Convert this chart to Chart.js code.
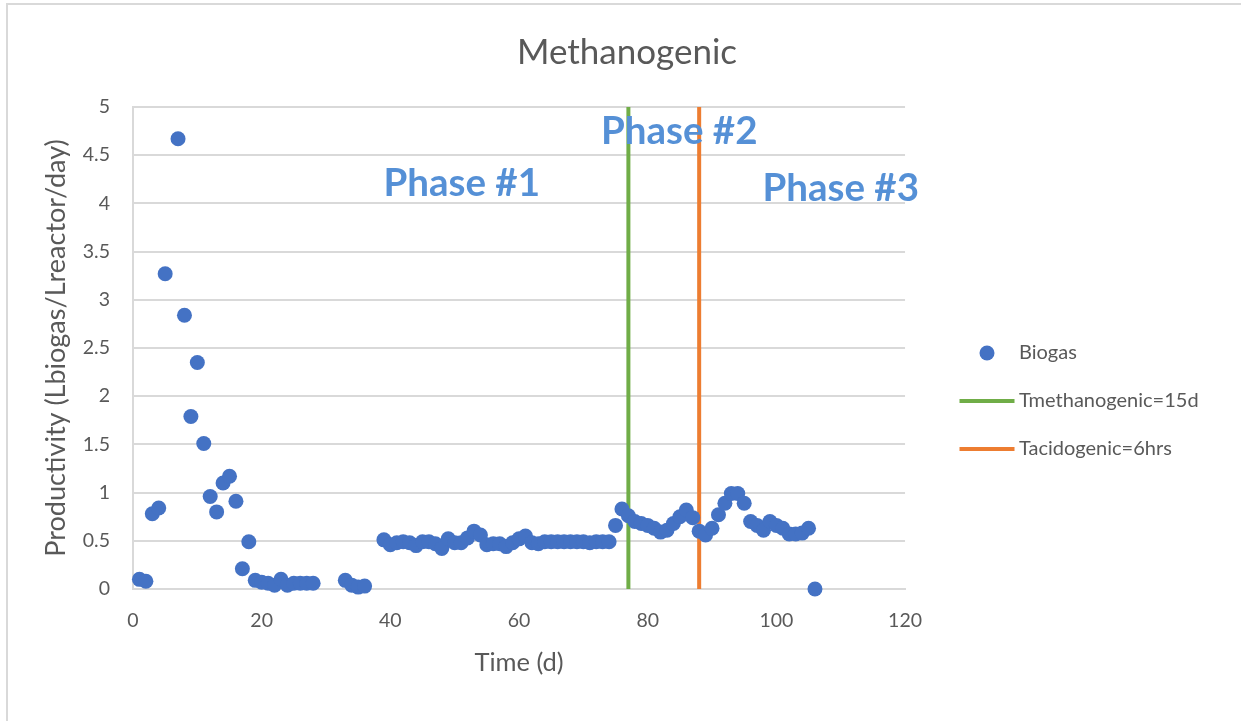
<!DOCTYPE html>
<html>
<head>
<meta charset="utf-8">
<title>Methanogenic</title>
<script src="https://cdn.jsdelivr.net/npm/chart.js@4.4.1/dist/chart.umd.min.js"></script>
<style>
  html, body { margin: 0; padding: 0; background: #ffffff; }
  #wrap { position: relative; width: 1241px; height: 721px; overflow: hidden; }
  #frame { position: absolute; left: 6px; top: 3px; width: 1300px; height: 800px;
           border: 2px solid #d9d9d9; box-sizing: border-box; pointer-events: none; }
  canvas { position: absolute; left: 0; top: 0; }
</style>
</head>
<body>
<div id="wrap">
  <canvas id="chart" width="1241" height="721"></canvas>
  <div id="frame"></div>
</div>
<script>
// Biogas productivity per day (Lbiogas/Lreactor/day)
const days = [
  1, 2, 3, 4, 5, 7, 8, 9, 10, 11, 12, 13, 14, 15, 16, 17, 18,
  19, 20, 21, 22, 23, 24, 25, 26, 27, 28,
  33, 34, 35, 36,
  39, 40, 41, 42, 43, 44, 45, 46, 47, 48, 49, 50, 51, 52, 53, 54, 55, 56, 57, 58,
  59, 60, 61, 62, 63, 64, 65, 66, 67, 68, 69, 70, 71, 72, 73, 74, 75, 76, 77, 78,
  79, 80, 81, 82, 83, 84, 85, 86, 87, 88, 89, 90, 91, 92, 93, 94, 95, 96, 97, 98,
  99, 100, 101, 102, 103, 104, 105, 106
];
const biogas = [
  0.10, 0.08, 0.78, 0.84, 3.27, 4.67, 2.84, 1.79, 2.35, 1.51, 0.96, 0.80, 1.10, 1.17, 0.91, 0.21, 0.49,
  0.09, 0.07, 0.06, 0.04, 0.10, 0.04, 0.06, 0.06, 0.06, 0.06,
  0.09, 0.04, 0.02, 0.03,
  0.51, 0.46, 0.48, 0.49, 0.48, 0.45, 0.49, 0.49, 0.47, 0.42, 0.52, 0.48, 0.48, 0.53, 0.60, 0.56, 0.46, 0.47, 0.47, 0.44,
  0.48, 0.52, 0.55, 0.48, 0.47, 0.49, 0.49, 0.49, 0.49, 0.49, 0.49, 0.49, 0.48, 0.49, 0.49, 0.49, 0.66, 0.83, 0.76, 0.70,
  0.68, 0.66, 0.63, 0.59, 0.61, 0.68, 0.75, 0.82, 0.74, 0.60, 0.56, 0.63, 0.77, 0.89, 0.99, 0.99, 0.89, 0.70, 0.66, 0.61,
  0.70, 0.66, 0.63, 0.57, 0.57, 0.58, 0.63, 0.00
];

// Retention-time markers (day at which each vertical line sits)
const markerNames = ['Tmethanogenic=15d', 'Tacidogenic=6hrs'];
const markerDays = [77, 88];
const markerColors = ['#70AD47', '#ED7D31'];

// Axis ticks
const xTicks = [0, 20, 40, 60, 80, 100, 120];
const yTicks = [0, 0.5, 1, 1.5, 2, 2.5, 3, 3.5, 4, 4.5, 5];

// Phase captions
const phaseNames = ['Phase #1', 'Phase #2', 'Phase #3'];

const FONT = "Lato, 'Open Sans', sans-serif";
const TEXT = '#595959';
const GRID = '#d9d9d9';
const BLUE = '#4472C4';

// Phase caption anchors, in axis units (centre of each caption)
const phaseAnchors = [
  { x: 51.1, y: 4.21 },
  { x: 84.9, y: 4.74 },
  { x: 110.0, y: 4.15 }
];

// Page layout targets (pixels)
const PLOT = { left: 133, right: 905, bottom: 589 };
const TITLE_CENTER_X = 627;
const LEGEND_X = 934;          // left edge of legend entries
const LEGEND_FIRST_Y = 353;    // middle of the first legend entry

const scatterPoints = days.map((d, i) => ({ x: d, y: biogas[i] }));
const yMin = yTicks[0], yMax = yTicks[yTicks.length - 1];

// Legend glyphs: drawn to small canvases so each keeps its own shape
const LEGEND_FONT_SIZE = 20;
const LEGEND_BOX = 75;
const GLYPH_SHIFT = 15.5;
function glyphCanvas(halfW, halfH, draw) {
  const c = document.createElement('canvas');
  c.width = Math.round(2 * (GLYPH_SHIFT + halfW));
  c.height = Math.round(2 * halfH);
  const g = c.getContext('2d');
  draw(g, c.width / 2 + GLYPH_SHIFT, c.height / 2);
  return c;
}
const dotGlyph = glyphCanvas(8, 8, (g, cx, cy) => {
  g.fillStyle = BLUE;
  g.beginPath(); g.arc(cx, cy, 7.5, 0, Math.PI * 2); g.fill();
});
const lineGlyph = (color) => glyphCanvas(28, 2, (g, cx, cy) => {
  g.fillStyle = color;
  g.fillRect(cx - 27.5, cy - 2, 55, 4);
});

const datasets = [
  {
    label: 'Biogas',
    data: scatterPoints,
    backgroundColor: BLUE,
    borderColor: BLUE,
    borderWidth: 0,
    pointRadius: 7.5,
    pointHoverRadius: 7.5,
    showLine: false,
    clip: false,
    legendGlyph: dotGlyph
  }
];
markerNames.forEach((name, i) => {
  datasets.push({
    label: name,
    data: [{ x: markerDays[i], y: yMin }, { x: markerDays[i], y: yMax }],
    borderColor: markerColors[i],
    backgroundColor: markerColors[i],
    borderWidth: 4,
    pointRadius: 0,
    showLine: true,
    legendGlyph: lineGlyph(markerColors[i])
  });
});

// Captions placed in axis units
const phasePlugin = {
  id: 'phaseCaptions',
  afterDraw(chart) {
    const { ctx, scales } = chart;
    ctx.save();
    ctx.font = "bold 38.5px " + FONT;
    ctx.fillStyle = '#5590D6';
    ctx.textAlign = 'center';
    ctx.textBaseline = 'middle';
    phaseNames.forEach((name, i) => {
      const a = phaseAnchors[i];
      ctx.fillText(name, scales.x.getPixelForValue(a.x), scales.y.getPixelForValue(a.y));
    });
    ctx.restore();
  }
};

// Places the title and legend blocks after the layout pass
const blockPlacement = {
  id: 'blockPlacement',
  afterLayout(chart) {
    const tb = chart.titleBlock;
    if (tb) {
      const dx = TITLE_CENTER_X - (tb.left + tb.right) / 2;
      tb.left += dx; tb.right += dx;
    }
    const lg = chart.legend;
    if (lg && lg.columnSizes && lg.columnSizes.length) {
      const pad = lg.options.labels.padding;
      const colH = lg.columnSizes[0].height;
      const firstMid = (lg.top + pad + lg.bottom - colH) / 2 + LEGEND_FONT_SIZE / 2;
      const dy = LEGEND_FIRST_Y - firstMid;
      lg.top += dy; lg.bottom += dy;
      const dx = LEGEND_X - (lg.left + pad);
      lg.left += dx; lg.right += dx;
    }
  }
};

const chart = new Chart(document.getElementById('chart'), {
  type: 'scatter',
  data: { datasets },
  plugins: [phasePlugin, blockPlacement],
  options: {
    responsive: false,
    animation: false,
    events: [],
    layout: { padding: { left: 28, right: 40, top: 0, bottom: 27 } },
    plugins: {
      title: {
        display: true,
        text: 'Methanogenic',
        color: TEXT,
        font: { family: FONT, size: 35, weight: 'normal' },
        padding: { top: 32, bottom: 33 }
      },
      legend: {
        display: true,
        position: 'right',
        align: 'center',
        labels: {
          color: TEXT,
          font: { family: FONT, size: LEGEND_FONT_SIZE },
          usePointStyle: true,
          pointStyleWidth: LEGEND_BOX,
          padding: 28,
          generateLabels(chart) {
            return chart.data.datasets.map((ds, i) => ({
              text: ds.label,
              pointStyle: ds.legendGlyph,
              fillStyle: ds.backgroundColor,
              strokeStyle: ds.borderColor,
              lineWidth: 0,
              fontColor: TEXT,
              hidden: false,
              datasetIndex: i
            }));
          }
        }
      },
      tooltip: { enabled: false }
    },
    scales: {
      x: {
        type: 'linear',
        min: xTicks[0],
        max: xTicks[xTicks.length - 1],
        afterBuildTicks(scale) { scale.ticks = xTicks.map(v => ({ value: v })); },
        grid: { display: true, drawOnChartArea: false, drawTicks: false },
        border: { display: true, color: GRID, width: 2 },
        ticks: { color: TEXT, font: { family: FONT, size: 19.5 }, padding: 20, callback: v => String(v) },
        title: {
          display: true,
          text: 'Time (d)',
          color: TEXT,
          font: { family: FONT, size: 25.5 },
          padding: { top: 10, bottom: 16 }
        }
      },
      y: {
        type: 'linear',
        min: yMin,
        max: yMax,
        afterBuildTicks(scale) { scale.ticks = yTicks.map(v => ({ value: v })); },
        grid: { color: GRID, lineWidth: 2, drawTicks: false },
        border: { display: true, color: GRID, width: 2 },
        ticks: { color: TEXT, font: { family: FONT, size: 19.5 }, padding: 23, callback: v => String(v) },
        title: {
          display: true,
          text: 'Productivity (Lbiogas/Lreactor/day)',
          color: TEXT,
          font: { family: FONT, size: 27 },
          padding: { top: 12, bottom: 12 }
        }
      }
    }
  }
});

// Trim paddings so the plot area lands on its intended edges
for (let pass = 0; pass < 3; pass++) {
  const area = chart.chartArea;
  const o = chart.options;
  o.layout.padding.right += area.right - PLOT.right;
  o.scales.x.title.padding.top += area.bottom - PLOT.bottom;
  o.scales.y.title.padding.bottom += PLOT.left - area.left;
  chart.update();
}
</script>
</body>
</html>
